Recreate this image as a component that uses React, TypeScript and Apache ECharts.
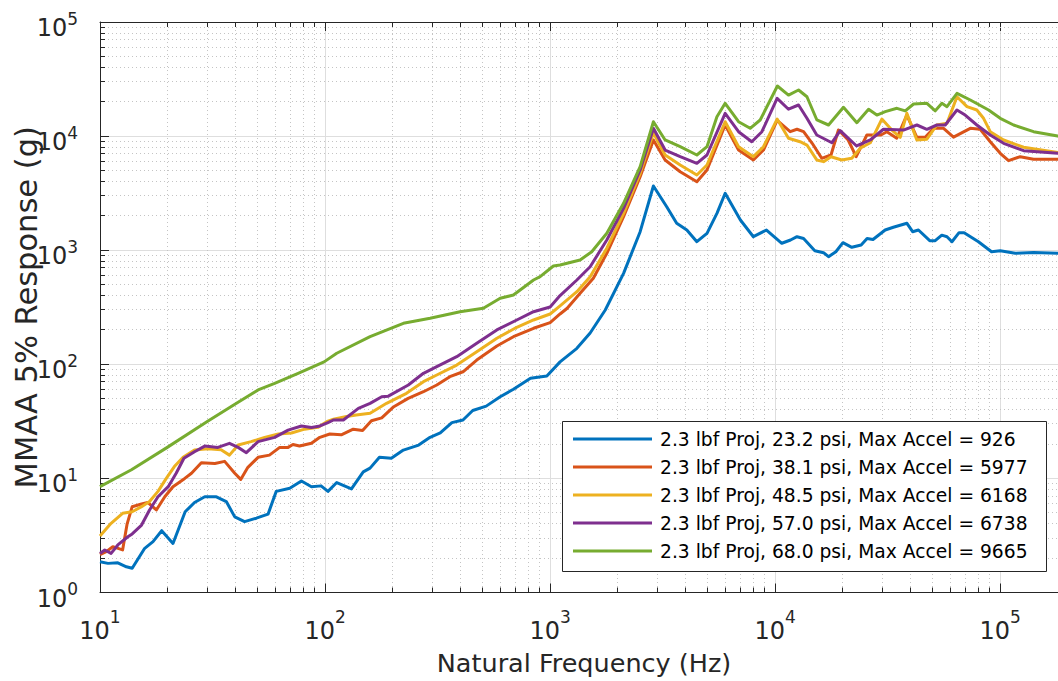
import React, { useEffect, useRef } from "react";
import * as echarts from "echarts";

const FONT = "DejaVu Sans";
const INK = "#262626";

const SERIES_NAMES = [
  "2.3 lbf Proj, 23.2 psi, Max Accel = 926",
  "2.3 lbf Proj, 38.1 psi, Max Accel = 5977",
  "2.3 lbf Proj, 48.5 psi, Max Accel = 6168",
  "2.3 lbf Proj, 57.0 psi, Max Accel = 6738",
  "2.3 lbf Proj, 68.0 psi, Max Accel = 9665",
];
const COLORS = ["#0072BD", "#D95319", "#EDB120", "#7E2F8E", "#77AC30"];

// [natural frequency (Hz), MMAA 5% response (g)]
const psi232: [number, number][] = [
  [10, 1.86], [10.85, 1.8], [12, 1.82], [13.1, 1.68], [13.9, 1.63], [15.8, 2.44], [17.2, 2.79],
  [18.8, 3.48], [21.1, 2.69], [23.9, 5.1], [26.3, 6.15], [29.2, 6.9], [32.9, 6.9], [36.4, 6.27],
  [39.7, 4.6], [43.9, 4.18], [49.5, 4.48], [55.8, 4.86], [60.7, 7.7], [69.7, 8.2], [78.5, 9.5],
  [87, 8.46], [96, 8.6], [103, 7.7], [112.7, 9.2], [131, 8.1], [147.8, 11.4], [158.5, 12.3],
  [174.4, 15.3], [197, 15], [222.8, 17.7], [260.6, 19.6], [292.8, 22.9], [325, 25], [366, 30.8],
  [410, 32.5], [453, 39.4], [520, 43], [600, 52], [687, 60.4], [818, 75.4], [967, 79], [1107, 105],
  [1315, 138], [1506, 188], [1758, 299], [2120, 627], [2512, 1453], [2877, 3654], [3296, 2406],
  [3650, 1721], [4050, 1503], [4487, 1187], [4977, 1406], [5510, 2105], [5995, 3155], [7006, 1840],
  [8000, 1313], [9150, 1503], [10700, 1150], [11700, 1228], [12500, 1313], [13370, 1265],
  [15000, 990], [16400, 951], [17260, 877], [18600, 970], [20000, 1164], [21900, 1060],
  [24100, 1110], [25600, 1265], [27200, 1240], [30800, 1503], [33500, 1588], [38500, 1721],
  [40800, 1453], [43300, 1503], [48600, 1211], [51400, 1211], [55000, 1354], [58000, 1313],
  [61000, 1187], [65600, 1424], [69100, 1424], [80000, 1187], [91500, 970], [100000, 990],
  [116600, 940], [140600, 955], [180000, 940], [200000, 935],
];

const psi381: [number, number][] = [
  [10, 2.15], [10.66, 2.28], [11.4, 2.52], [12.6, 2.36], [13.2, 4.0], [13.9, 5.65], [15.3, 5.97],
  [16.3, 6.15], [17.8, 5.29], [19.4, 6.9], [21.1, 8.46], [23.8, 10], [25.5, 11.1], [28.2, 13.7],
  [32.4, 13.5], [35.8, 14.1], [39.7, 11.1], [42.2, 9.8], [45.4, 12.5], [50.4, 15.3], [56.6, 16],
  [62.9, 18.7], [68.5, 18.7], [72, 19.8], [77, 19.2], [87, 20.3], [94.8, 22.9], [105, 24.5],
  [118, 24.1], [133.4, 27], [146.8, 26.3], [160.7, 32], [178.6, 33.9], [202, 42.5], [234, 50.3],
  [273.6, 57.5], [313.6, 65.9], [358.5, 77.9], [410, 86], [472, 109], [580, 144.7], [687, 174.6],
  [844, 206.8], [1000, 231.6], [1107, 276], [1191, 310], [1359, 419], [1556, 567], [1786, 939],
  [2120, 1966], [2512, 4406], [2877, 9245], [3243, 6180], [3784, 4875], [4487, 3985], [4977, 5045],
  [5995, 12510], [6874, 7550], [8000, 6180], [8870, 7550], [10200, 13750], [11660, 10930],
  [12500, 11480], [13370, 10930], [14600, 8650], [16100, 6390], [17700, 6830], [19100, 11300],
  [21100, 9245], [22900, 6600], [25550, 10230], [29500, 10230], [31350, 10930], [34700, 9570],
  [38460, 15300], [42600, 9760], [46400, 9760], [50580, 11700], [56000, 11700], [62000, 9800],
  [73600, 11700], [81470, 11480], [90300, 8930], [100000, 7070], [108900, 6090], [122700, 6600],
  [140600, 6260], [180000, 6260], [200000, 6250],
];

const psi485: [number, number][] = [
  [10, 3.13], [11.2, 4.04], [12.6, 4.94], [13.9, 5.1], [15.3, 5.65], [16.6, 6.27], [18.1, 7.7],
  [19.7, 10], [21.4, 12.7], [23.4, 15.3], [26.3, 17.7], [30.2, 18.2], [34.5, 17.8], [37.6, 16],
  [41.1, 19.6], [46.9, 21], [53.9, 22.9], [62, 24.5], [70.9, 25], [81.1, 27], [92.9, 28],
  [103, 31.8], [109, 33], [124.6, 34.9], [137.5, 36], [158.5, 37.3], [187.6, 45.5], [230, 55.7],
  [273.6, 70.4], [313.6, 80.6], [384.6, 98.5], [472, 128.9], [580, 169], [711, 211], [844, 244.5],
  [1000, 276], [1107, 325], [1315, 433], [1506, 586], [1786, 1040], [2120, 2105], [2512, 4720],
  [2877, 10700], [3243, 6830], [3784, 5580], [4487, 4560], [4977, 5580], [5995, 13370],
  [6874, 8075], [8000, 6600], [8870, 8075], [10200, 14100], [11460, 9570], [12900, 8930],
  [13840, 8350], [15300, 6180], [16400, 5970], [17700, 6600], [19770, 6180], [21900, 6390],
  [23870, 7830], [26450, 8750], [29780, 14100], [32990, 11300], [35940, 9760], [38460, 15850],
  [42600, 9245], [47200, 9390], [52300, 12510], [58000, 12970], [64200, 22140], [71170, 18110],
  [78700, 16930], [84290, 14320], [90300, 10930], [103500, 9245], [127000, 7980], [180000, 7180],
  [200000, 7100],
];

const psi570: [number, number][] = [
  [10, 2.2], [10.5, 2.36], [11.2, 2.2], [12, 2.61], [13.3, 3.08], [13.9, 3.26], [15.3, 3.9],
  [16.6, 5.29], [18.1, 6.9], [20.1, 8.46], [21.8, 11.1], [23.6, 15], [26.3, 17.1], [29.2, 19.2],
  [33.4, 18.7], [37.6, 20.3], [41.1, 18.7], [44.7, 16.8], [50.4, 21], [59.7, 22.9], [68.5, 26.5],
  [78.5, 28.8], [87, 27.9], [95, 28.8], [103, 30.8], [109, 32.5], [120.6, 32.5], [140.6, 41.1],
  [158.5, 45.5], [178.6, 52], [191, 52.6], [234.4, 65.9], [273.6, 83.4], [313.6, 95.3],
  [384.6, 116.6], [472, 152.8], [579.6, 200], [711, 244.5], [844, 289], [1000, 318], [1107, 400],
  [1315, 548], [1506, 717], [1786, 1228], [2120, 2330], [2512, 5045], [2877, 11700], [3243, 7550],
  [3784, 6600], [4487, 5775], [4977, 6830], [5995, 15850], [6874, 10930], [7870, 8930],
  [8730, 10930], [10200, 21440], [11460, 17200], [12700, 18730], [13840, 14320], [15300, 10230],
  [17870, 8750], [19450, 11150], [23000, 8190], [26450, 9245], [30280, 11480], [37150, 11300],
  [42620, 12510], [47200, 11480], [52300, 12510], [56960, 12510], [64200, 16930], [69840, 15300],
  [78700, 12510], [90300, 10230], [103500, 8650], [127000, 7450], [180000, 7070], [200000, 7000],
];

const psi680: [number, number][] = [
  [10, 8.46], [13.8, 11.9], [19.9, 18.7], [30.2, 31.8], [40.4, 45.5], [50.4, 59.6], [59.7, 68],
  [75.9, 83.4], [99, 105], [112.7, 125], [158.5, 174.6], [222.8, 228.6], [292.8, 253], [398, 289],
  [505, 310], [600, 379], [687, 405], [844, 548], [903, 586], [1034, 727], [1107, 741],
  [1359, 820], [1531, 970], [1786, 1406], [2120, 2577], [2512, 5393], [2877, 13370], [3243, 9245],
  [3784, 8075], [4487, 6830], [4977, 8075], [5510, 14790], [5995, 19390], [6874, 13370],
  [7743, 11700], [8577, 13840], [10230, 27500], [11460, 22900], [12700, 25350], [13840, 22140],
  [15320, 13840], [17260, 12510], [20110, 17880], [23060, 13110], [26000, 17170], [28300, 15300],
  [30830, 16370], [34750, 17520], [37840, 16650], [41210, 19110], [47230, 19390], [51430, 16650],
  [55060, 19390], [57980, 18110], [64240, 23710], [73620, 20720], [88740, 16930], [100000, 14320],
  [114600, 12510], [140600, 10930], [180000, 10000], [200000, 9800],
];

const SERIES_DATA = [psi232, psi381, psi485, psi570, psi680];

// axis ranges and log-grid tick positions
const X_MIN = 10;
const X_MAX = 200000;
const Y_MIN = 1;
const Y_MAX = 100000;
const MINOR_MULTIPLIERS = [2, 3, 4, 5, 6, 7, 8, 9];
const X_DECADES = [10, 100, 1000, 10000, 100000];
const Y_DECADES = [1, 10, 100, 1000, 10000];

const xMinorTicks: number[] = [];
X_DECADES.forEach((d) =>
  MINOR_MULTIPLIERS.forEach((m) => {
    const v = d * m;
    if (v < X_MAX) xMinorTicks.push(v);
  })
);
const yMinorTicks: number[] = [];
Y_DECADES.forEach((d) => MINOR_MULTIPLIERS.forEach((m) => yMinorTicks.push(d * m)));

const powerLabel = (v: number) => {
  const e = Math.log10(v);
  const r = Math.round(e);
  if (Math.abs(e - r) > 1e-6) return "";
  return `{b|10}{s|${r}}`;
};

const crisp = (v: number) => Math.round(v - 0.5) + 0.5;

export default function App() {
  const ref = useRef<HTMLDivElement>(null);

  useEffect(() => {
    document.body.style.margin = "0";
    if (!ref.current) return;
    const chart = echarts.init(ref.current, undefined, { renderer: "svg" });

    const lineSeries = SERIES_NAMES.map((name, i) => ({
      name,
      type: "line",
      data: SERIES_DATA[i],
      showSymbol: false,
      symbol: "none",
      lineStyle: { width: 3, color: COLORS[i], join: "round" },
      itemStyle: { color: COLORS[i] },
      emphasis: { disabled: true },
      silent: true,
      z: 3 + i,
    }));

    const minorX = {
      type: "custom",
      silent: true,
      z: 1,
      data: xMinorTicks.map((v) => [v, Y_MIN]),
      renderItem: (params: any, api: any) => {
        const cs = params.coordSys;
        const x = crisp(api.coord([api.value(0), Y_MIN])[0]);
        const top = cs.y;
        const bottom = cs.y + cs.height;
        return {
          type: "group",
          children: [
            {
              type: "line",
              shape: { x1: x, y1: top, x2: x, y2: bottom },
              style: { stroke: "#c4c4c4", lineWidth: 1, lineDash: [1, 3] },
            },
            {
              type: "line",
              shape: { x1: x, y1: bottom, x2: x, y2: bottom - 5 },
              style: { stroke: INK, lineWidth: 1 },
            },
            {
              type: "line",
              shape: { x1: x, y1: top, x2: x, y2: top + 5 },
              style: { stroke: INK, lineWidth: 1 },
            },
          ],
        };
      },
    };

    const minorY = {
      type: "custom",
      silent: true,
      z: 1,
      data: yMinorTicks.map((v) => [X_MIN, v]),
      renderItem: (params: any, api: any) => {
        const cs = params.coordSys;
        const y = crisp(api.coord([X_MIN, api.value(1)])[1]);
        const left = cs.x;
        const right = cs.x + cs.width;
        return {
          type: "group",
          children: [
            {
              type: "line",
              shape: { x1: left, y1: y, x2: right, y2: y },
              style: { stroke: "#c4c4c4", lineWidth: 1, lineDash: [1, 3] },
            },
            {
              type: "line",
              shape: { x1: left, y1: y, x2: left + 5, y2: y },
              style: { stroke: INK, lineWidth: 1 },
            },
          ],
        };
      },
    };

    chart.setOption({
      animation: false,
      backgroundColor: "#ffffff",
      textStyle: { fontFamily: FONT },
      grid: {
        left: 100,
        top: 22,
        width: 968,
        height: 570.5,
        containLabel: false,
        outerBoundsMode: "none",
      },
      legend: {
        orient: "vertical",
        left: 573,
        top: 428,
        padding: 0,
        icon: "rect",
        itemWidth: 79,
        itemHeight: 3,
        itemGap: 6,
        selectedMode: false,
        data: SERIES_NAMES,
        textStyle: {
          fontFamily: FONT,
          fontSize: 18.7,
          lineHeight: 22,
          color: "#000000",
          padding: [0, 0, 0, 3],
        },
        z: 10,
      },
      graphic: [
        {
          type: "rect",
          z: 5,
          silent: true,
          shape: { x: 562.5, y: 421.5, width: 484, height: 150 },
          style: { fill: "#ffffff", stroke: INK, lineWidth: 1 },
        },
      ],
      xAxis: [
        {
          type: "log",
          logBase: 10,
          min: X_MIN,
          max: X_MAX,
          splitNumber: 5,
          position: "bottom",
          name: "Natural Frequency (Hz)",
          nameLocation: "middle",
          nameGap: 57,
          nameMoveOverlap: false,
          nameTextStyle: { fontFamily: FONT, fontSize: 25.5, color: INK },
          axisLine: { show: true, lineStyle: { color: INK, width: 1 } },
          axisTick: { show: true, inside: true, length: 9, lineStyle: { color: INK, width: 1 } },
          axisLabel: {
            show: true,
            margin: 16,
            formatter: powerLabel,
            rich: {
              b: { fontFamily: FONT, fontSize: 24, color: INK, lineHeight: 34, verticalAlign: "bottom" },
              s: { fontFamily: FONT, fontSize: 17, color: INK, lineHeight: 17, verticalAlign: "top" },
            },
            showMinLabel: true,
            showMaxLabel: false,
          },
          splitLine: { show: true, lineStyle: { color: "#dedede", width: 1 } },
          minorTick: { show: false },
          minorSplitLine: { show: false },
        },
        {
          type: "log",
          logBase: 10,
          min: X_MIN,
          max: X_MAX,
          splitNumber: 5,
          position: "top",
          axisLine: { show: true, lineStyle: { color: INK, width: 1 } },
          axisTick: { show: true, inside: true, length: 9, lineStyle: { color: INK, width: 1 } },
          axisLabel: { show: false },
          splitLine: { show: false },
        },
      ],
      yAxis: {
        type: "log",
        logBase: 10,
        min: Y_MIN,
        max: Y_MAX,
        splitNumber: 5,
        name: "MMAA 5% Response (g)",
        nameLocation: "middle",
        nameGap: 58,
        nameMoveOverlap: false,
        nameTextStyle: { fontFamily: FONT, fontSize: 30.5, color: INK },
        axisLine: { show: true, lineStyle: { color: INK, width: 1 } },
        axisTick: { show: true, inside: true, length: 9, lineStyle: { color: INK, width: 1 } },
        axisLabel: {
          show: true,
          margin: 22,
          padding: [6, 0, 0, 0],
          formatter: powerLabel,
          rich: {
            b: { fontFamily: FONT, fontSize: 24, color: INK, lineHeight: 30, verticalAlign: "bottom" },
            s: { fontFamily: FONT, fontSize: 17, color: INK, lineHeight: 17, verticalAlign: "top" },
          },
        },
        splitLine: { show: true, lineStyle: { color: "#dedede", width: 1 } },
      },
      series: [minorX, minorY, ...lineSeries],
    });

    return () => chart.dispose();
  }, []);

  return (
    <div style={{ width: 1058, height: 681, overflow: "hidden", position: "relative" }}>
      <div ref={ref} style={{ width: 1080, height: 681 }} />
    </div>
  );
}
